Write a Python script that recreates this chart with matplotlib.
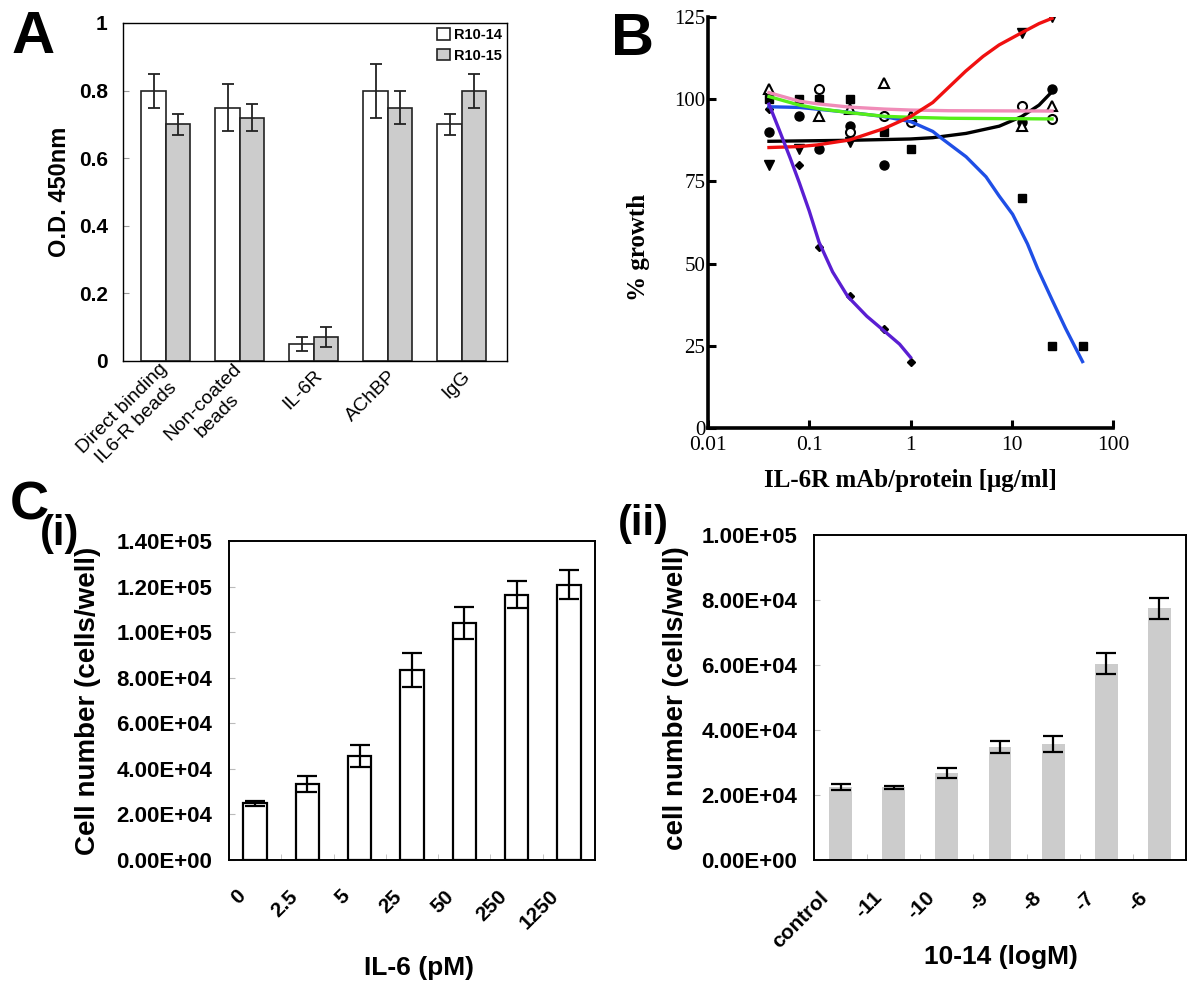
import numpy as np
import matplotlib
matplotlib.use('Agg')
import matplotlib.pyplot as plt
from matplotlib.ticker import FuncFormatter, FixedLocator
from matplotlib.transforms import ScaledTranslation

plt.rcParams['font.family'] = ['Liberation Sans', 'DejaVu Sans']

# ---------------- Panel A data ----------------
a_categories = ['Direct binding\nIL6-R beads', 'Non-coated\nbeads', 'IL-6R', 'AChBP', 'IgG']
a_series = ['R10-14', 'R10-15']
a_r1014 = [0.80, 0.75, 0.05, 0.80, 0.70]
a_r1014_err = [0.05, 0.07, 0.02, 0.08, 0.03]
a_r1015 = [0.70, 0.72, 0.07, 0.75, 0.80]
a_r1015_err = [0.03, 0.04, 0.03, 0.05, 0.05]
a_yticks = [0, 0.2, 0.4, 0.6, 0.8, 1]
a_yticklabels = ['0', '0.2', '0.4', '0.6', '0.8', '1']

# ---------------- Panel B data ----------------
b_xticks = [0.01, 0.1, 1, 10, 100]
b_xticklabels = ['0.01', '0.1', '1', '10', '100']
b_yticks = [0, 25, 50, 75, 100, 125]

# measured points (marker series)
b_diamond_x = [0.04, 0.08, 0.125, 0.25, 0.55, 1.0]
b_diamond_y = [97, 80, 55, 40, 30, 20]
b_square_x = [0.04, 0.08, 0.125, 0.25, 0.55, 1.0, 12.5, 25, 50]
b_square_y = [100, 100, 100, 100, 90, 85, 70, 25, 25]
b_vtri_x = [0.04, 0.08, 0.25, 12.5, 25]
b_vtri_y = [80, 85, 87, 120, 125]
b_fcircle_x = [0.04, 0.08, 0.125, 0.25, 0.55, 12.5, 25]
b_fcircle_y = [90, 95, 85, 92, 80, 93, 103]
b_ocircle_x = [0.125, 0.25, 0.55, 1.0, 12.5, 25]
b_ocircle_y = [103, 90, 95, 93, 98, 94]
b_otri_x = [0.04, 0.125, 0.25, 0.55, 1.0, 12.5, 25]
b_otri_y = [103, 95, 97, 105, 95, 92, 98]

# fitted curves
b_purple_x = [0.04, 0.05, 0.065, 0.08, 0.1, 0.125, 0.17, 0.24, 0.37, 0.56, 0.78, 1.0]
b_purple_y = [98.5, 91, 82, 74.5, 66, 56.5, 47.5, 40, 34, 29.3, 25.5, 21.5]
b_blue_x = [0.04, 0.08, 0.25, 0.55, 1.0, 1.66, 1.93, 3.54, 5.57, 7.53, 10.2, 14.3, 18.0, 25, 34, 50]
b_blue_y = [97.7, 97.5, 96, 94.7, 93.2, 90.2, 88.6, 82.5, 76.4, 70.5, 65.0, 56.0, 48.5, 39, 30.3, 20.2]
b_red_x = [0.04, 0.08, 0.12, 0.25, 0.55, 1.0, 1.66, 2.42, 3.5, 5.2, 7.5, 12.5, 18.6, 25]
b_red_y = [85.3, 85.6, 86.1, 87.6, 91.1, 94.7, 99.0, 103.8, 108.5, 113, 116.5, 120.2, 123, 124.6]
b_black_x = [0.04, 0.25, 1.0, 1.66, 3.54, 7.53, 12.5, 18.6, 25]
b_black_y = [87.2, 87.5, 87.9, 88.3, 89.6, 91.8, 94.7, 98.2, 102.3]
b_green_x = [0.04, 0.08, 0.12, 0.25, 0.55, 1.0, 2.4, 25]
b_green_y = [100.8, 98.2, 97.2, 95.9, 94.8, 94.5, 94.2, 94.0]
b_pink_x = [0.04, 0.08, 0.12, 0.25, 0.55, 1.0, 2.4, 25]
b_pink_y = [102, 99.4, 98.6, 97.6, 97.0, 96.7, 96.5, 96.4]

# ---------------- Panel C data ----------------
c1_labels = ['0', '2.5', '5', '25', '50', '250', '1250']
c1_values = [24800, 33300, 45600, 83300, 104000, 116400, 120900]
c1_err = [1000, 3500, 4750, 7450, 7000, 5850, 6200]
c1_yticks = [0, 20000, 40000, 60000, 80000, 100000, 120000, 140000]

c2_labels = ['control', '-11', '-10', '-9', '-8', '-7', '-6']
c2_values = [22500, 22400, 26700, 34800, 35700, 60400, 77500]
c2_err = [1000, 500, 1500, 1950, 2450, 3300, 3200]
c2_yticks = [0, 20000, 40000, 60000, 80000, 100000]

# ---------------- figure ----------------
W, H = 1200, 994
fig = plt.figure(figsize=(12, 9.94), dpi=100)


def ax_at(l, t, r, b):
    return fig.add_axes([l / W, 1 - b / H, (r - l) / W, (b - t) / H])


def ftext(x, y, s, **kw):
    fig.text(x / W, 1 - y / H, s, **kw)


def shift_labels(ax, dx_px, dy_px=0):
    off = ScaledTranslation(dx_px / 100, dy_px / 100, fig.dpi_scale_trans)
    for lbl in ax.get_xticklabels():
        lbl.set_transform(lbl.get_transform() + off)


# ---------- Panel A ----------
axA = ax_at(123, 23, 507, 361)
xa = np.arange(len(a_categories))
bw = 0.33
ekw = dict(elinewidth=1.3, capthick=1.3, ecolor='#222222')
bA1 = axA.bar(xa - bw / 2, a_r1014, bw, yerr=a_r1014_err, color='white', edgecolor='#222222',
              linewidth=1.2, capsize=4, error_kw=ekw, label=a_series[0])
bA2 = axA.bar(xa + bw / 2, a_r1015, bw, yerr=a_r1015_err, color='#cccccc', edgecolor='#222222',
              linewidth=1.2, capsize=4, error_kw=ekw, label=a_series[1])
axA.set_xlim(-0.58, 4.61)
axA.set_ylim(0, 1)
axA.set_yticks(a_yticks)
axA.set_yticklabels(a_yticklabels, fontsize=15, fontweight='bold')
axA.set_xticks(xa)
axA.set_xticklabels(a_categories, fontsize=14, rotation=45, ha='right', va='center',
                    rotation_mode='anchor', multialignment='center')
axA.tick_params(axis='y', direction='in', length=4, color='#999999', pad=11)
axA.tick_params(axis='x', length=0, pad=9)
for sp in axA.spines.values():
    sp.set_linewidth(1.0)
shift_labels(axA, 6)
axA.legend(handles=[bA1, bA2], labels=a_series, loc='upper right', frameon=False,
           prop={'weight': 'bold', 'size': 10.5}, handlelength=0.85, handleheight=0.85,
           handletextpad=0.3, borderaxespad=0.15, borderpad=0.2, labelspacing=0.45)
ftext(60, 192, 'O.D. 450nm', rotation=90, ha='center', va='center', fontsize=17, fontweight='bold')
ftext(12, 53, 'A', fontsize=43, fontweight='bold', ha='left', va='baseline')

# ---------- Panel B ----------
serif = ['Liberation Serif', 'DejaVu Serif']
axB = ax_at(708, 17, 1113, 428)
axB.set_xscale('log')
lw = 2.4
axB.plot(b_black_x, b_black_y, color='black', lw=lw, zorder=3)
axB.plot(b_blue_x, b_blue_y, color='#1f4fe6', lw=lw, zorder=3)
axB.plot(b_green_x, b_green_y, color='#55ee1a', lw=lw, zorder=4)
axB.plot(b_pink_x, b_pink_y, color='#f08cb8', lw=lw, zorder=5)
axB.plot(b_red_x, b_red_y, color='#f01010', lw=lw, zorder=6)
axB.plot(b_purple_x, b_purple_y, color='#5a1ed2', lw=lw, zorder=6)
mk = dict(linestyle='none', color='black', zorder=2)
axB.plot(b_square_x, b_square_y, marker='s', ms=6, **mk)
axB.plot(b_fcircle_x, b_fcircle_y, marker='o', ms=6.5, **mk)
axB.plot(b_vtri_x, b_vtri_y, marker='v', ms=6.5, **mk)
axB.plot(b_diamond_x, b_diamond_y, marker='D', ms=4.5, **mk)
axB.plot(b_ocircle_x, b_ocircle_y, marker='o', ms=6.5, mfc='white', mew=1.5, **mk)
axB.plot(b_otri_x, b_otri_y, marker='^', ms=6.5, mfc='white', mew=1.5, **mk)
axB.set_xlim(0.01, 100)
axB.set_ylim(0, 125)
axB.xaxis.set_major_locator(FixedLocator(b_xticks))
axB.xaxis.set_minor_locator(FixedLocator([]))
axB.set_xticklabels(b_xticklabels, fontsize=15.5, family=serif)
axB.set_yticks(b_yticks)
axB.set_yticklabels([str(v) for v in b_yticks], fontsize=15, family=serif)
axB.spines['top'].set_visible(False)
axB.spines['right'].set_visible(False)
axB.spines['left'].set_linewidth(2.6)
axB.spines['bottom'].set_linewidth(2.6)
axB.tick_params(axis='both', direction='in', length=6, width=2.2)
axB.tick_params(axis='y', pad=2)
axB.tick_params(axis='x', pad=6)
ftext(638, 247, '% growth', rotation=90, ha='center', va='center', fontsize=18,
      fontweight='bold', family=serif)
ftext(910, 481, 'IL-6R mAb/protein [\u03bcg/ml]', ha='center', va='center', fontsize=18,
      fontweight='bold', family=serif)
ftext(611, 55, 'B', fontsize=43, fontweight='bold', ha='left', va='baseline')

# ---------- Panel C(i) ----------
sci = FuncFormatter(lambda v, p: f'{v:.2E}')
axC1 = ax_at(229, 541, 595, 860)
xc = np.arange(len(c1_labels))
axC1.bar(xc, c1_values, 0.45, yerr=c1_err, color='white', edgecolor='black', linewidth=1.6,
         capsize=7, error_kw=dict(elinewidth=1.6, capthick=1.6, ecolor='black'))
axC1.set_xlim(-0.5, len(c1_labels) - 0.5)
axC1.set_ylim(0, 140000)
axC1.yaxis.set_major_locator(FixedLocator(c1_yticks))
axC1.yaxis.set_major_formatter(sci)
axC1.set_xticks(xc)
axC1.set_xticklabels(c1_labels, fontsize=15, fontweight='bold', rotation=45, ha='right',
                     va='center', rotation_mode='anchor')
axC1.xaxis.set_minor_locator(FixedLocator(xc[:-1] + 0.5))
axC1.tick_params(axis='x', which='major', length=0, pad=24)
axC1.tick_params(axis='x', which='minor', direction='in', length=4, color='#bbbbbb')
axC1.tick_params(axis='y', direction='in', length=4, color='#bbbbbb', pad=12, labelsize=16)
for lbl in axC1.get_yticklabels():
    lbl.set_fontweight('bold')
for sp in axC1.spines.values():
    sp.set_linewidth(1.4)
shift_labels(axC1, -13)
ftext(88, 701, 'Cell number (cells/well)', rotation=90, ha='center', va='center',
      fontsize=20, fontweight='bold')
ftext(419, 968, 'IL-6 (pM)', ha='center', va='center', fontsize=19, fontweight='bold')
ftext(10, 520, 'C', fontsize=39, fontweight='bold', ha='left', va='baseline')
ftext(40, 545, '(i)', fontsize=30, fontweight='bold', ha='left', va='baseline')

# ---------- Panel C(ii) ----------
axC2 = ax_at(814, 535, 1186, 860)
xc2 = np.arange(len(c2_labels))
axC2.bar(xc2, c2_values, 0.43, yerr=c2_err, color='#cccccc', edgecolor='none',
         capsize=7, error_kw=dict(elinewidth=1.6, capthick=1.6, ecolor='black'))
axC2.set_xlim(-0.5, len(c2_labels) - 0.5)
axC2.set_ylim(0, 100000)
axC2.yaxis.set_major_locator(FixedLocator(c2_yticks))
axC2.yaxis.set_major_formatter(sci)
axC2.set_xticks(xc2)
axC2.set_xticklabels(c2_labels, fontsize=15, fontweight='bold', rotation=45, ha='right',
                     va='center', rotation_mode='anchor')
axC2.xaxis.set_minor_locator(FixedLocator(xc2[:-1] + 0.5))
axC2.tick_params(axis='x', which='major', length=0, pad=25)
axC2.tick_params(axis='x', which='minor', direction='in', length=4, color='#bbbbbb')
axC2.tick_params(axis='y', direction='in', length=4, color='#bbbbbb', pad=12, labelsize=16)
for lbl in axC2.get_yticklabels():
    lbl.set_fontweight('bold')
for sp in axC2.spines.values():
    sp.set_linewidth(1.4)
shift_labels(axC2, -15)
ftext(676, 698, 'cell number (cells/well)', rotation=90, ha='center', va='center',
      fontsize=20, fontweight='bold')
ftext(1001, 957, '10-14 (logM)', ha='center', va='center', fontsize=19, fontweight='bold')
ftext(618, 535, '(ii)', fontsize=30, fontweight='bold', ha='left', va='baseline')

fig.savefig('out.png', dpi=100)
